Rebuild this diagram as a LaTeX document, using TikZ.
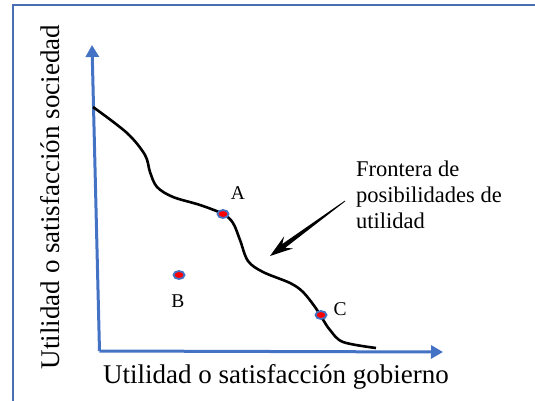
\documentclass[tikz,border=0pt]{standalone}
\usepackage{fontspec}
\setmainfont{Liberation Serif}
\usetikzlibrary{arrows.meta,shapes.geometric,calc}
\definecolor{axisblue}{RGB}{68,114,196}
\definecolor{frameblue}{RGB}{74,111,176}

\begin{document}
\begin{tikzpicture}
[
    x=1pt, y=-1pt,
    axis/.style={draw=axisblue, line width=3pt, -{Triangle[length=12pt, width=13pt]}},
    frontier/.style={draw=black, line width=2.6pt},
    point/.style={ellipse, draw=axisblue, fill=red, line width=1.8pt, minimum width=11pt, minimum height=8pt, inner sep=0pt},
    letter/.style={font=\fontsize{19.5}{23}\selectfont, inner sep=0pt},
    axislabel/.style={font=\fontsize{27}{31}\selectfont, inner sep=0pt},
]
\clip (0,0) rectangle (535,401);
\draw[frameblue, line width=2pt] (12.5,5.5) rectangle (560,420);
\coordinate (O) at (99.5,351);
\coordinate (ytip) at (92,45);
\coordinate (xtip) at (443,352);
\draw[axis] (O) -- (ytip);
\draw[axis] (O) -- (xtip);
\node[axislabel] (xlab) at (276,377) {Utilidad o satisfacción gobierno};
\node[axislabel, rotate=90] (ylab) at (50,197) {Utilidad o satisfacción sociedad};
\draw[frontier] plot[smooth, tension=0.55] coordinates
    {(93,107) (127,133) (145,155) (150,172) (157,187) (173,197) (200,205)
     (223,214) (233,223) (240,240) (248,261) (263,272) (290,283) (303,292)
     (315,307) (322,318) (330,330) (343,342) (376,348)};
\node[point] (A) at (223,214) {};
\node[point] (B) at (179,275) {};
\node[point] (C) at (321,315) {};
\node[letter] (labA) at (238,193) {A};
\node[letter] (labB) at (178,301) {B};
\node[letter] (labC) at (340,309) {C};
\node[align=left, anchor=west, inner sep=0pt, font=\fontsize{22.5}{26}\selectfont]
    (front) at (356,195) {Frontera de\\posibilidades de\\utilidad};
\coordinate (tail) at (345,201);
\coordinate (tip) at (270,256);
\fill (tip) -- ($(tip)!23pt!(tail)!7.5pt!90:(tail)$)
    -- ($(tip)!17pt!(tail)!2.4pt!90:(tail)$)
    -- ($(tail)!0.4pt!-90:(tip)$)
    -- ($(tail)!0.4pt!90:(tip)$)
    -- ($(tip)!17pt!(tail)!2.4pt!-90:(tail)$)
    -- ($(tip)!23pt!(tail)!7.5pt!-90:(tail)$) -- cycle;
\end{tikzpicture}
\end{document}
